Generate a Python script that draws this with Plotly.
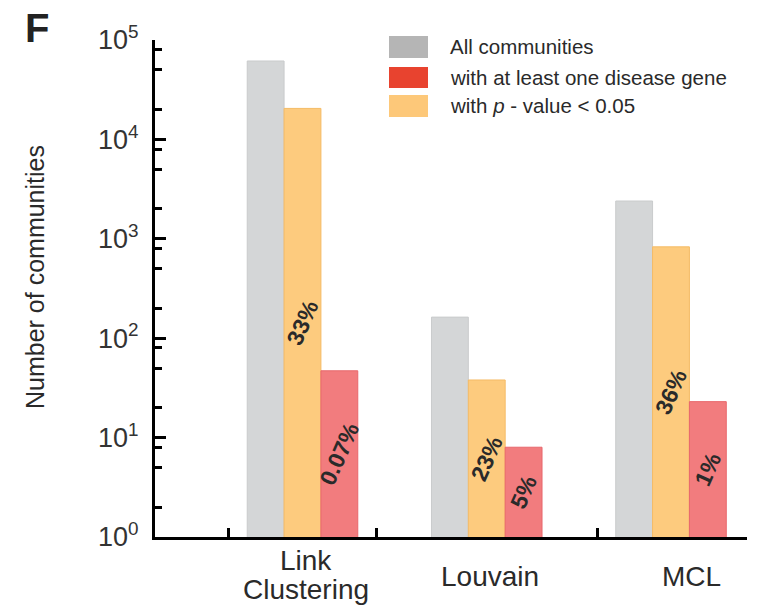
import plotly.graph_objects as go

# ---- data -------------------------------------------------------------
methods = ["Link<br>Clustering", "Louvain", "MCL"]
group_x = [1, 2, 3]

all_communities = [61500, 163, 2400]
pvalue_communities = [20500, 38, 830]
disease_communities = [47, 8, 23]

pvalue_pct = ["33%", "23%", "36%"]
disease_pct = ["0.07%", "5%", "1%"]

series_names = ["All communities", "with at least one disease gene",
                "with <i>p</i> - value < 0.05"]

y_major = [1, 10, 100, 1000, 10000, 100000]
y_major_text = ["10<sup>%d</sup>" % k for k in range(6)]
y_minor = [m * 10 ** k for k in range(5) for m in (2, 5, 8)]

x_tick_marks = [0.6, 1.4, 2.6, 3.41]
label_x = [1.02, 2.02, 3.11]

# ---- colours ------------------------------------------------------------
GRAY, GRAY_EDGE, GRAY_KEY = "#d4d6d7", "#c9cbcc", "#b5b5b5"
ORANGE, ORANGE_EDGE, ORANGE_KEY = "#fdcb7e", "#f5bb66", "#fdc879"
RED, RED_EDGE, RED_KEY = "#f27c7e", "#e8676c", "#e8432f"
TEXT = "#2a2a2a"
FONT = "Liberation Sans, Arial, sans-serif"

# plot-area geometry (pixels) used for paper-coordinate placement
W, H = 762, 606
L, R, T, B = 155, 747, 40, 537


def px(x):
    return (x - L) / (R - L)


def py(y):
    return (B - y) / (B - T)


pct_font = dict(family=FONT, size=23, color=TEXT, weight="bold")

fig = go.Figure()

fig.add_trace(go.Bar(
    x=group_x, y=all_communities, name=series_names[0],
    marker=dict(color=GRAY, line=dict(color=GRAY_EDGE, width=1)),
))
fig.add_trace(go.Bar(
    x=group_x, y=pvalue_communities, name=series_names[2],
    marker=dict(color=ORANGE, line=dict(color=ORANGE_EDGE, width=1)),
    text=pvalue_pct, textposition="inside", insidetextanchor="middle",
    textangle=-66, constraintext="none", textfont=pct_font,
))
fig.add_trace(go.Bar(
    x=group_x, y=disease_communities, name=series_names[1],
    marker=dict(color=RED, line=dict(color=RED_EDGE, width=1)),
    text=disease_pct, textposition="inside", insidetextanchor="middle",
    textangle=-66, constraintext="none", textfont=pct_font,
))

# ---- annotations: panel letter, axis title, category labels ------------
ann = [
    dict(text="<b>F</b>", x=px(37), y=py(28), font=dict(size=40, color="#222")),
    dict(text="Number of communities", x=px(35), y=py(277), textangle=-90,
         font=dict(size=25, color=TEXT)),
    dict(text="Link", x=label_x[0], xref="x", y=py(560), font=dict(size=28, color=TEXT)),
    dict(text="Clustering", x=label_x[0], xref="x", y=py(589), font=dict(size=28, color=TEXT)),
    dict(text=methods[1], x=label_x[1], xref="x", y=py(576), font=dict(size=28, color=TEXT)),
    dict(text=methods[2], x=label_x[2], xref="x", y=py(576), font=dict(size=28, color=TEXT)),
]

# ---- legend drawn as swatches + labels ---------------------------------
shapes = []
key_rows = [(GRAY_KEY, series_names[0], 36, 58),
            (RED_KEY, series_names[1], 67, 88),
            (ORANGE_KEY, series_names[2], 95, 117)]
for color, label, top, bot in key_rows:
    shapes.append(dict(type="rect", xref="paper", yref="paper",
                       x0=px(389), x1=px(428), y0=py(bot), y1=py(top),
                       fillcolor=color, line=dict(width=0)))
    ann.append(dict(text=label, x=px(448), y=py((top + bot) / 2), xanchor="left",
                    font=dict(size=20.5, color=TEXT)))

for a in ann:
    a.setdefault("xref", "paper")
    a.setdefault("yref", "paper")
    a.setdefault("xanchor", "center")
    a.setdefault("yanchor", "middle")
    a["showarrow"] = False
    a["font"]["family"] = FONT

fig.update_layout(
    width=W, height=H,
    margin=dict(l=L, r=W - R, t=T, b=H - B),
    paper_bgcolor="white", plot_bgcolor="white",
    barmode="group", bargap=0.4, bargroupgap=0,
    showlegend=False,
    font=dict(family=FONT, color=TEXT),
    annotations=ann, shapes=shapes,
    xaxis=dict(
        range=[0.1995, 3.4125], showgrid=False, zeroline=False,
        showline=True, linecolor="black", linewidth=3,
        tickmode="array", tickvals=x_tick_marks, showticklabels=False,
        ticks="inside", ticklen=9, tickwidth=3, tickcolor="black",
    ),
    yaxis=dict(
        type="log", range=[0, 5], showgrid=False, zeroline=False,
        showline=True, linecolor="black", linewidth=3,
        tickmode="array", tickvals=y_major, ticktext=y_major_text,
        ticks="inside", ticklen=11, tickwidth=2.5, tickcolor="black",
        tickfont=dict(size=27, color="#333"), ticklabelstandoff=8,
        minor=dict(tickmode="array", tickvals=y_minor, ticks="inside",
                   ticklen=7, tickwidth=2.5, tickcolor="black"),
    ),
)

fig.write_html("out.html")
